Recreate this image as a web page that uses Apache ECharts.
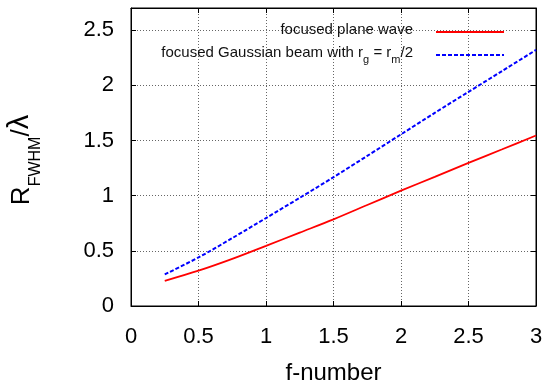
<!DOCTYPE html>
<html>
<head>
<meta charset="utf-8">
<script src="https://cdn.jsdelivr.net/npm/echarts@6/dist/echarts.min.js"></script>
<style>html,body{margin:0;padding:0;background:#fff}#c{width:548px;height:381px}</style>
</head>
<body>
<div id="c"></div>
<script>
var fNumber = [0.25, 0.5, 0.75, 1, 1.25, 1.5, 1.75, 2, 2.25, 2.5, 2.75, 3];
var planeWave = [0.228, 0.32, 0.427, 0.545, 0.665, 0.785, 0.915, 1.045, 1.17, 1.297, 1.42, 1.545];
var gaussBeam = [0.286, 0.44, 0.615, 0.797, 0.98, 1.167, 1.36, 1.555, 1.75, 1.94, 2.13, 2.32];
var seriesNames = ['focused plane wave', 'focused Gaussian beam with r_g = r_m/2'];

function pairs(xs, ys){ return xs.map(function(x,i){ return [x, ys[i]]; }); }

var font = 'Liberation Sans, Arial, Helvetica, sans-serif';
var chart = echarts.init(document.getElementById('c'), null, {renderer:'canvas'});
function gridLine(){ return {show:true, lineStyle:{color:'#666', type:[1,2], width:1}}; }
function axLine(){ return {show:true, onZero:false, lineStyle:{color:'#000', width:1}}; }
function tick(){ return {show:true, inside:true, length:5, lineStyle:{color:'#000', width:1}}; }
chart.setOption({
  animation:false,
  backgroundColor:'#fff',
  grid:{left:131, right:12, top:8, bottom:75, containLabel:false, outerBoundsMode:'none',
        show:true, borderColor:'#000', borderWidth:1, backgroundColor:'transparent'},
  legend:{
    orient:'vertical', right:38, top:17, align:'right', itemWidth:68, itemHeight:12, itemGap:8,
    itemStyle:{opacity:0},
    textStyle:{fontFamily:font, fontSize:15, color:'#111', padding:[0,18,0,0],
      rich:{t:{fontFamily:font, fontSize:15, color:'#111', verticalAlign:'bottom', padding:[0,0,5,0]},
            s:{fontFamily:font, fontSize:11, color:'#111', verticalAlign:'bottom'}}},
    formatter:function(n){
      if(n===seriesNames[0]) return '{t|'+n+'}';
      return '{t|focused Gaussian beam with r}{s|g}{t| = r}{s|m}{t|/2}';
    },
    data:seriesNames
  },
  xAxis:[
    {type:'value', min:0, max:3, interval:0.5, position:'bottom',
     name:'f-number', nameLocation:'middle', nameGap:55,
     nameTextStyle:{fontFamily:font, fontSize:24, color:'#000'},
     axisLine:axLine(), axisTick:tick(), splitLine:gridLine(),
     axisLabel:{fontFamily:font, fontSize:22, color:'#000', margin:20}},
    {type:'value', min:0, max:3, interval:0.5, position:'top',
     axisLine:axLine(), axisTick:tick(), splitLine:{show:false}, axisLabel:{show:false}}
  ],
  yAxis:[
    {type:'value', min:0, max:2.7, interval:0.5, position:'left',
     name:'{a|R}{b|FWHM}{a|/}{c|λ}', nameLocation:'middle', nameGap:87,
     nameTextStyle:{fontFamily:font, fontSize:26, color:'#000', padding:[0,6,0,0],
       rich:{a:{fontFamily:font, fontSize:26, color:'#000', verticalAlign:'bottom', padding:[0,0,9,0]},
             b:{fontFamily:font, fontSize:16, color:'#000', verticalAlign:'bottom'},
             c:{fontFamily:font, fontSize:29, color:'#000', verticalAlign:'bottom', padding:[0,0,10,0]}}},
     axisLine:axLine(), axisTick:tick(), splitLine:gridLine(),
     axisLabel:{fontFamily:font, fontSize:22, color:'#000', margin:17, showMaxLabel:false}},
    {type:'value', min:0, max:2.7, interval:0.5, position:'right',
     axisLine:axLine(), axisTick:tick(), splitLine:{show:false}, axisLabel:{show:false}}
  ],
  series:[
    {name:seriesNames[0], type:'line', data:pairs(fNumber, planeWave), symbol:'none', smooth:0.3,
     lineStyle:{color:'#ff0000', width:1.8}, itemStyle:{color:'#ff0000'}},
    {name:seriesNames[1], type:'line', data:pairs(fNumber, gaussBeam), symbol:'none', smooth:0.3,
     lineStyle:{color:'#0000ff', width:2, type:[4,2]}, itemStyle:{color:'#0000ff'}}
  ]
});
</script>
</body>
</html>
